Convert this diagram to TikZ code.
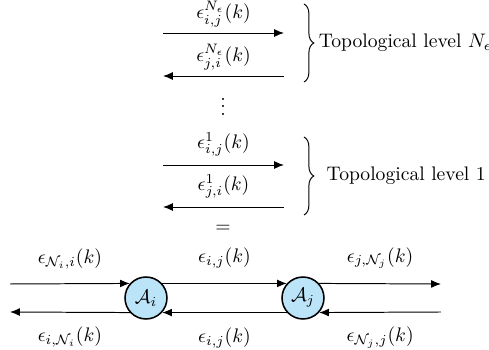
\documentclass[tikz,border=0pt]{standalone}
\usepackage{amsmath,amssymb}
\usepackage{tikz}
\usetikzlibrary{
	arrows.meta,
	positioning,
	decorations.pathreplacing
}
\definecolor{agentblue}{RGB}{188,228,248}

\begin{document}
\begin{tikzpicture}[x=0.51pt, y=-0.51pt,
    msg/.style={-{Latex[length=5pt,width=4pt]}, line width=0.5pt},
    agent/.style={circle, draw, line width=0.8pt, fill=agentblue, minimum size=21.4pt, inner sep=0pt},
    lvl/.style={decorate, decoration={brace, amplitude=5pt}, line width=0.5pt}
]
\useasboundingbox (0,0) rectangle (489,350);

% Topological level N_epsilon
\coordinate (nA) at (163,33);
\coordinate (nB) at (284,33);
\coordinate (nC) at (163,76);
\coordinate (nD) at (284,76);
\draw[msg] (nA) -- node[above=-0.5pt] {$\epsilon^{N_\epsilon}_{i,j}(k)$} (nB);
\draw[msg] (nD) -- node[above=-0.5pt] {$\epsilon^{N_\epsilon}_{j,i}(k)$} (nC);
\draw[lvl] (304,4) -- (304,82) node[midway, right=4pt] (levN) {Topological level $N_\epsilon$};

% dots between levels
\node[inner sep=0pt] (vdots) at (223,101) {$\vdots$};

% Topological level 1
\coordinate (oA) at (163,165);
\coordinate (oB) at (284,165);
\coordinate (oC) at (163,207);
\coordinate (oD) at (284,207);
\draw[msg] (oA) -- node[above=1pt] {$\epsilon^{1}_{i,j}(k)$} (oB);
\draw[msg] (oD) -- node[above=1pt] {$\epsilon^{1}_{j,i}(k)$} (oC);
\draw[lvl] (304,137) -- (304,215) node[midway, right=8pt] (levOne) {Topological level 1};

\node[inner sep=0pt] (equal) at (223,229) {$=$};

% Agents
\node[agent] (Ai) at (146,298) {$\mathcal{A}_i$};
\node[agent] (Aj) at (303,298) {$\mathcal{A}_j$};
\coordinate (inI) at (10,284);
\coordinate (outI) at (10,312);
\coordinate (outJ) at (441,284);
\coordinate (inJ) at (441,312);

\draw[msg] (inI) -- node[above=4pt] {$\epsilon_{\mathcal{N}_i,i}(k)$} (Ai.138);
\draw[msg] (Ai.42) -- node[above=4pt] {$\epsilon_{i,j}(k)$} (Aj.138);
\draw[msg] (Aj.42) -- node[above=4pt] {$\epsilon_{j,\mathcal{N}_j}(k)$} (outJ);
\draw[msg] (inJ) -- node[below=4pt] {$\epsilon_{\mathcal{N}_j,j}(k)$} (Aj.-42);
\draw[msg] (Aj.-138) -- node[below=4pt] {$\epsilon_{i,j}(k)$} (Ai.-42);
\draw[msg] (Ai.-138) -- node[below=4pt] {$\epsilon_{i,\mathcal{N}_i}(k)$} (outI);

\end{tikzpicture}
\end{document}
